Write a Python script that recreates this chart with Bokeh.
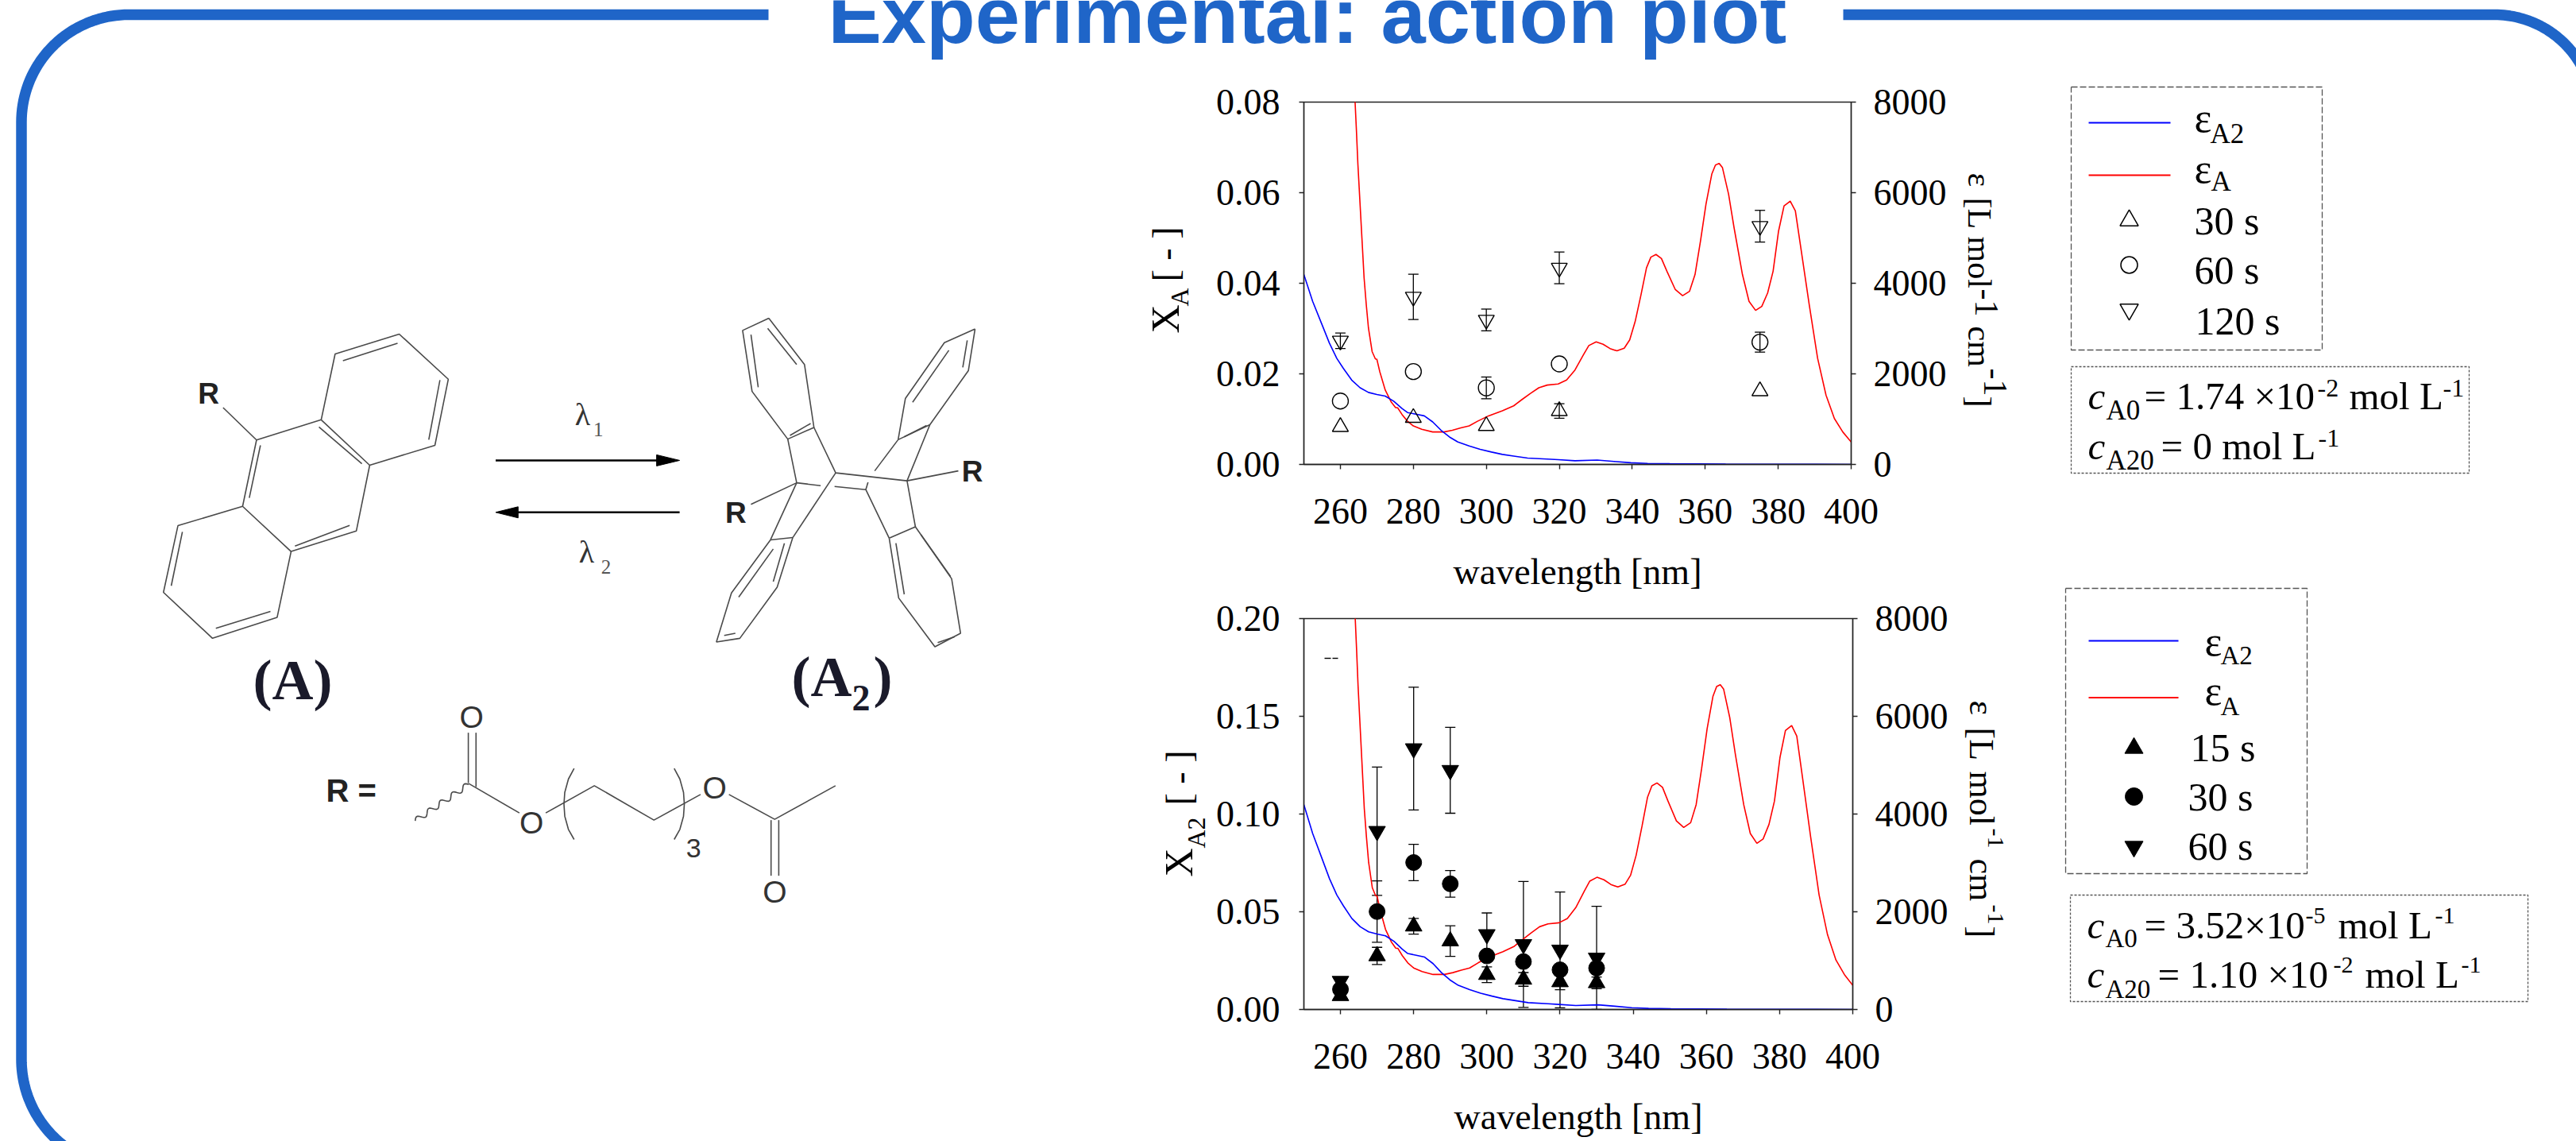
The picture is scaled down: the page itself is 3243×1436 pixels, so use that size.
import math
import numpy as np
from bokeh.core.properties import value
from bokeh.embed import file_html
from bokeh.layouts import column
from bokeh.models import (ColumnDataSource, FixedTicker, LinearAxis, PrintfTickFormatter,
                          Range1d, TeeHead, Whisker)
from bokeh.plotting import figure
from bokeh.resources import INLINE

# ---------- data ----------
red_nm = [263.8,264.4,264.8,265.3,265.9,266.5,267.1,267.7,268.7,269.6,270.0,270.8,272.3,273.9,275.1,275.7,276.9,278.4,280.0,282.3,285.3,288.4,290.7,293.0,295.3,297.6,300.6,304.4,307.5,309.8,312.1,314.4,316.7,319.7,322.0,324.3,326.6,328.1,330.1,332.0,333.9,335.8,337.8,339.3,340.8,342.4,343.9,345.1,346.5,348.0,349.5,351.8,353.8,355.7,357.2,358.7,360.2,361.8,362.8,363.8,364.7,366.4,367.9,370.2,372.0,373.8,375.5,377.1,378.6,380.1,381.6,383.3,384.7,386.2,388.5,390.8,393.1,395.4,397.7,400.0]
red_eps = [8400,7372,6632,5893,5006,4118,3527,3009,2492,2329,2322,2048,1641,1383,1257,1250,1102,954,850,776,717,717,754,806,850,954,1072,1183,1294,1434,1568,1693,1752,1775,1863,2085,2418,2625,2706,2654,2558,2507,2566,2751,3157,3749,4340,4577,4636,4547,4266,3860,3727,3823,4192,4932,5745,6411,6610,6647,6558,5967,5228,4192,3601,3401,3490,3786,4266,5154,5708,5812,5597,4784,3527,2344,1531,1013,717,495]
blue_nm = [250,252.4,254.8,257,259,260.8,263.1,265.4,267.7,270,272.3,274.6,276.9,278.4,280.7,283,285.3,287.6,289.9,292.2,295.3,298.3,301.4,304.4,307.5,311.3,316.7,319.7,324.3,330.4,335,339.6,344.2,350.3,365.6,400]
blue_eps = [4192,3601,3120,2677,2344,2122,1863,1693,1590,1545,1508,1397,1235,1146,1109,1072,939,754,606,495,407,333,274,222,185,140,118,104,81,96,67,37,22,15,7,0]

# top panel: X_A (an error of 0 means no bar is visible in the picture)
a_nm = [260, 280, 300, 320, 375]
a30 = [0.0083, 0.0103, 0.0085, 0.0118, 0.0162]
a30_err = [0, 0, 0, 0.0016, 0]
a60 = [0.0140, 0.0205, 0.0169, 0.0222, 0.0270]
a60_err = [0, 0, 0.0024, 0, 0.0022]
a120 = [0.0273, 0.0370, 0.0319, 0.0434, 0.0526]
a120_err = [0.0017, 0.0050, 0.0024, 0.0035, 0.0035]

# bottom panel: X_A2
b_nm = [260, 270, 280, 290, 300, 310, 320, 330]
b15 = [0.0070, 0.0274, 0.0426, 0.0350, 0.0178, 0.0154, 0.0141, 0.0136]
b15_err = [0, 0.0044, 0.0040, 0.0078, 0.0040, 0.0035, 0.0040, 0.0030]
b30 = [0.0103, 0.0501, 0.0752, 0.0643, 0.0274, 0.0245, 0.0203, 0.0212]
b30_err = [0, 0.0157, 0.0093, 0.0068, 0, 0, 0, 0]
b60 = [0.0145, 0.0912, 0.1335, 0.1224, 0.0384, 0.0333, 0.0305, 0.0264]
b60_err = [0, 0.0328, 0.0314, 0.0220, 0.0110, 0.0322, 0.0296, 0.0264]

x_ticks = [260, 280, 300, 320, 340, 360, 380, 400]
a_ticks = [0.0, 0.02, 0.04, 0.06, 0.08]
b_ticks = [0.0, 0.05, 0.10, 0.15, 0.20]
eps_ticks = [0, 2000, 4000, 6000, 8000]

TITLE = "Experimental: action plot"
XLABEL = "wavelength [nm]"
BLUE = "#1f65c8"
SERIF = "Liberation Serif"
SANS = "Liberation Sans"
W, H = 3243, 1436

# ---------- background canvas in page pixels ----------
c = figure(width=W, height=H, x_range=Range1d(0, W), y_range=Range1d(H, 0),
           x_axis_type=None, y_axis_type=None, toolbar_location=None,
           output_backend="svg", min_border=0, outline_line_color=None,
           background_fill_color=None, border_fill_color=None, frame_align=False)


def T(x, y, s, size=47, font=SERIF, style="normal", color="black", align="left", angle=0.0):
    # x, y name the text's baseline; the glyph draws it about 0.34 em below its anchor
    off = 0.34 * size
    if angle == 0:
        y -= off
    elif angle > 0:
        x -= off
    else:
        x += off
    c.text(x=[x], y=[y], text=[s], text_font=value(font), text_font_size=f"{size}px",
           text_font_style=style, text_color=color, text_align=align,
           text_baseline="alphabetic", angle=angle)


def L(xs, ys, color="#4a4a4a", width=1.6, dash="solid"):
    c.line([float(v) for v in xs], [float(v) for v in ys], line_color=color, line_width=width, line_dash=dash)


def arc(cx, cy, r, a0, a1, n=40):
    t = np.radians(np.linspace(a0, a1, n))
    return cx + r * np.cos(t), cy + r * np.sin(t)


# outer frame
ax, ay = arc(161.5, 153, 135, 180, 270)
bx, by = arc(163.5, 1333, 137, 180, 110)
fx = list(bx[::-1]) + list(ax) + [967]
fy = list(by[::-1]) + list(ay) + [18]
L(fx, fy, BLUE, 13.5)
rx, ry = arc(3140, 143, 125, 270, 340)
L([2320] + list(rx), [18] + list(ry), BLUE, 13.5)
# note: a bold size beginning "100" trips the SVG context's font parser, 101 is fine
T(1042, 53, TITLE, 101, SANS, "bold", BLUE)


# structures
def z5(p):
    return 180 + p[0] / 1.425, 360 + p[1] / 2.8


def z6(p):
    return 360 + p[0] / 1.96, 840 + p[1] / 3


def path(pts, f=z5, **kw):
    q = [f(p) for p in pts]
    L([a for a, _ in q], [b for _, b in q], **kw)


for pts in [
    [(319,470),(344,238),(459,168),(547,327),(523,560),(406,630),(319,470)],
    [(358,262),(456,200)], [(532,330),(512,540)], [(315,495),(392,625)],
    [(319,470),(203,541),(178,775),(265,934),(382,862),(406,630)],
    [(210,560),(190,745)], [(272,915),(370,842)],
    [(178,775),(62,843),(36,1078),(124,1240),(240,1166),(265,934)],
    [(70,865),(50,1055)], [(130,1205),(228,1145)], [(203,541),(143,427)],
    # dimer
    [(1122,112),(1075,155),(1092,370),(1156,538),(1203,497),(1186,275),(1122,112)],
    [(1120,148),(1172,275)], [(1090,170),(1103,355)], [(1160,525),(1197,483)],
    [(1492,150),(1437,198),(1367,395),(1354,540),(1411,487),(1480,297),(1492,150)],
    [(1445,225),(1380,408)], [(1478,190),(1470,285)], [(1365,530),(1405,490)],
    [(1203,497),(1242,657),(1370,685)], [(1156,538),(1172,692),(1215,702)],
    [(1240,705),(1296,716),(1338,887)], [(1354,540),(1312,650)], [(1300,690),(1296,716)],
    [(1411,487),(1370,685),(1385,847)], [(1242,657),(1165,885)],
    [(1172,692),(1125,893)], [(1172,692),(1090,768)], [(1370,685),(1462,650)],
    [(1125,893),(1165,885)], [(1125,893),(1055,1080),(1028,1253),(1070,1240),(1137,1060),(1165,885)],
    [(1130,925),(1068,1095)], [(1150,905),(1130,1040)], [(1042,1230),(1062,1222)],
    [(1338,887),(1385,847),(1450,1030),(1466,1222),(1420,1270),(1355,1098),(1338,887)],
    [(1395,875),(1448,1022)], [(1350,905),(1365,1085)], [(1425,1255),(1455,1235)],
]:
    path(pts)

for zx, zy in [(117, 413), (1063, 832), (1487, 687)]:
    x, y = z5((zx, zy))
    T(x, y, "R", 37, SANS, "bold", "#222222", "center")

# arrows
x0, y0 = z5((632, 613)); x1, _ = z5((925, 613))
L([x0, x1], [y0, y0], "black", 2.4)
hx, _ = z5((962, 613))
c.patch([x1 - 3, hx, x1 - 3], [y0 - 7, y0, y0 + 7], color="black")
x0, y0 = z5((962, 796)); x1, _ = z5((668, 796))
L([x0, x1], [y0, y0], "black", 2.4)
hx, _ = z5((632, 796))
c.patch([x1 + 3, hx, x1 + 3], [y0 - 7, y0, y0 + 7], color="black")
x, y = z5((788, 490)); T(x, y, "λ", 40, SERIF, color="#333333", align="center")
x, y = z5((816, 527)); T(x, y, "1", 25, SERIF, color="#555555", align="center")
x, y = z5((795, 972)); T(x, y, "λ", 40, SERIF, color="#333333", align="center")
x, y = z5((830, 1012)); T(x, y, "2", 25, SERIF, color="#555555", align="center")

T(318, 880, "(A)", 72, SERIF, "bold", "#1a1a2a")
T(996, 876, "(A", 72, SERIF, "bold", "#1a1a2a")
T(1072, 894, "2", 46, SERIF, "bold", "#1a1a2a")
T(1099, 876, ")", 72, SERIF, "bold", "#1a1a2a")

# R group
T(410, 1008, "R =", 40, SANS, "bold", "#222222")
for zx, zy in [(457, 227), (605, 624), (1057, 492), (1205, 887)]:
    x, y = z6((zx, zy))
    T(x, y, "O", 39, SANS, "normal", "#333333", "center")
x, y = z6((1005, 716)); T(x, y, "3", 34, SANS, "normal", "#333333", "center")
for pts in [[(449,245),(449,435)], [(468,245),(468,450)], [(450,437),(575,548)],
            [(640,548),(760,445),(907,575),(1022,478)], [(1092,478),(1205,572),(1355,445)],
            [(1196,575),(1196,785)], [(1215,575),(1215,785)],
            [(710,380),(696,420),(687,470),(685,515),(687,560),(696,610),(710,648)],
            [(957,380),(971,420),(980,470),(982,515),(980,560),(971,610),(957,648)]]:
    path(pts, z6)
# wavy bond
wn = 60
ws = np.linspace(0, 1, wn)
wx0, wy0 = z6((318, 578)); wx1, wy1 = z6((450, 440))
nx, ny = (wy1 - wy0), -(wx1 - wx0)
nl = math.hypot(nx, ny)
L(wx0 + (wx1 - wx0) * ws + 3.5 * nx / nl * np.sin(ws * 2 * np.pi * 4.5),
  wy0 + (wy1 - wy0) * ws + 3.5 * ny / nl * np.sin(ws * 2 * np.pi * 4.5))

# axis titles with subscripts and superscripts
up = math.pi / 2
T(1483, 419, "X", 50, angle=up); T(1495, 385, "A", 32, angle=up); T(1483, 354, "[ - ]", 46, angle=up)
T(1500, 1103, "X", 50, angle=up); T(1516, 1067, "A2", 32, angle=up); T(1500, 1013, "[ - ]", 46, angle=up)
dn = -math.pi / 2
for (xb, y, s, sz) in [(2477, 217, "ε", 42), (2477, 248, "[L", 42), (2477, 297, "mol", 42),
                       (2486, 363, "-1", 42), (2477, 410, "cm", 42), (2497, 463, "-1", 42),
                       (2477, 498, "]", 42),
                       (2479, 881, "ε", 44), (2479, 915, "[L", 44), (2479, 970, "mol", 44),
                       (2502, 1042, "-1", 30), (2479, 1080, "cm", 44), (2502, 1138, "-1", 30),
                       (2479, 1165, "]", 44)]:
    T(xb, y, s, sz, angle=dn)

# legend 1
LD = "#555555"
L([2607, 2923, 2923, 2607, 2607], [109, 109, 440, 440, 109], LD, 1.3, "8 3")
L([2629, 2732], [154, 154], "#0000ff", 1.8)
L([2629, 2732], [220, 220], "#ff0000", 1.8)
T(2762, 166, "ε", 52); T(2782, 180, "A2", 35)
T(2762, 230, "ε", 52); T(2783, 240, "A", 35)
T(2762, 294, "30 s", 50); T(2762, 356, "60 s", 50); T(2763, 420, "120 s", 50)
c.scatter([2680], [277], marker="triangle", size=23, fill_color=None, line_color="black", line_width=1.5)
c.scatter([2680], [333], marker="circle", size=21, fill_color=None, line_color="black", line_width=1.5)
c.scatter([2680], [389], marker="inverted_triangle", size=23, fill_color=None, line_color="black", line_width=1.5)
L([2607, 3108, 3108, 2607, 2607], [461, 461, 595, 595, 461], LD, 1.3, "3 2")
T(2628, 515, "c", 49, style="italic"); T(2651, 528, "A0", 35); T(2699, 515, "= 1.74 ×10", 49)
T(2917, 499, "-2", 32); T(2957, 515, "mol L", 49); T(3075, 499, "-1", 32)
T(2628, 578, "c", 49, style="italic"); T(2651, 591, "A20", 35); T(2720, 578, "= 0 mol L", 49)
T(2918, 562, "-1", 32)

# legend 2
L([2600, 2904, 2904, 2600, 2600], [740, 740, 1099, 1099, 740], LD, 1.3, "8 3")
L([2629, 2742], [806, 806], "#0000ff", 1.8)
L([2629, 2742], [877.5, 877.5], "#ff0000", 1.8)
T(2775, 825, "ε", 52); T(2795, 836, "A2", 33)
T(2775, 887, "ε", 52); T(2795, 900, "A", 33)
T(2757, 957, "15 s", 50); T(2754, 1019, "30 s", 50); T(2754, 1081, "60 s", 50)
c.scatter([2686], [941], marker="triangle", size=23, fill_color="black", line_color="black")
c.scatter([2686], [1002], marker="circle", size=22, fill_color="black", line_color="black")
c.scatter([2686], [1065], marker="inverted_triangle", size=23, fill_color="black", line_color="black")
L([2606, 3182, 3182, 2606, 2606], [1126, 1126, 1260, 1260, 1126], LD, 1.3, "3 2")
T(2627, 1181, "c", 49, style="italic"); T(2650, 1192, "A0", 33); T(2699, 1181, "= 3.52×10", 49)
T(2902, 1162, "-5", 30); T(2943, 1181, "mol L", 49); T(3065, 1162, "-1", 30)
T(2627, 1243, "c", 49, style="italic"); T(2650, 1256, "A20", 33); T(2716, 1243, "= 1.10 ×10", 49)
T(2937, 1224, "-2", 30); T(2977, 1243, "mol L", 49); T(3098, 1224, "-1", 30)

# small stray dash in the lower panel
L([1667, 1675], [828, 828], "black", 1.4)
L([1677, 1684], [828, 828], "black", 1.4)

# ---------- chart panels ----------
BL, BR, BT, BB = 160, 150, 20, 170


def panel(left, right, top, bottom, ymax, yticks):
    p = figure(width=right - left + BL + BR, height=bottom - top + BT + BB,
               x_range=Range1d(250, 400), y_range=Range1d(0, ymax),
               toolbar_location=None, output_backend="svg",
               min_border_left=BL, min_border_right=BR, min_border_top=BT, min_border_bottom=BB,
               background_fill_color=None, border_fill_color=None, frame_align=False,
               outline_line_color="#222222", outline_line_width=1.4)
    p.grid.visible = False
    p.extra_y_ranges["eps"] = Range1d(0, 8000)
    right_axis = LinearAxis(y_range_name="eps")
    p.add_layout(right_axis, "right")
    p.xaxis.ticker = FixedTicker(ticks=x_ticks)
    p.xaxis.axis_label = XLABEL
    p.yaxis[0].ticker = FixedTicker(ticks=yticks)
    p.yaxis[0].formatter = PrintfTickFormatter(format="%.2f")
    right_axis.ticker = FixedTicker(ticks=eps_ticks)
    right_axis.formatter = PrintfTickFormatter(format="%d")
    for ax_ in [p.xaxis[0], p.yaxis[0], right_axis]:
        ax_.major_label_text_font = SERIF
        ax_.major_label_text_font_size = "46px"
        ax_.major_label_text_color = "black"
        ax_.axis_line_color = "#222222"
        ax_.axis_line_width = 1.4
        ax_.major_tick_line_color = "#222222"
        ax_.major_tick_line_width = 1.4
        ax_.major_tick_in = 0
        ax_.major_tick_out = 6
        ax_.minor_tick_line_color = None
    p.xaxis.major_label_standoff = 37
    p.yaxis[0].major_label_standoff = 24
    right_axis.major_label_standoff = 22
    p.xaxis.axis_label_text_font = SERIF
    p.xaxis.axis_label_text_font_size = "46px"
    p.xaxis.axis_label_text_font_style = "normal"
    p.xaxis.axis_label_text_color = "black"
    p.xaxis.axis_label_standoff = 32
    p.line(red_nm, red_eps, y_range_name="eps", line_color="#ff0000", line_width=1.6)
    p.line(blue_nm, blue_eps, y_range_name="eps", line_color="#0000ff", line_width=1.6)
    return p


def errs(p, xs, ys, es):
    keep = [i for i, e in enumerate(es) if e > 0]
    src = ColumnDataSource(dict(x=[xs[i] for i in keep], lo=[ys[i] - es[i] for i in keep],
                                hi=[ys[i] + es[i] for i in keep]))
    p.add_layout(Whisker(base="x", lower="lo", upper="hi", source=src, line_color="black", line_width=1.3,
                         upper_head=TeeHead(size=13, line_color="black", line_width=1.3),
                         lower_head=TeeHead(size=13, line_color="black", line_width=1.3)))


p1 = panel(1641, 2330, 128, 584, 0.08, a_ticks)
for ys, es, mk, sz in [(a30, a30_err, "triangle", 20), (a60, a60_err, "circle", 20),
                       (a120, a120_err, "inverted_triangle", 20)]:
    errs(p1, a_nm, ys, es)
    p1.scatter(a_nm, ys, marker=mk, size=sz, fill_color=None, line_color="black", line_width=1.4)

p2 = panel(1641, 2332, 778, 1270, 0.20, b_ticks)
for ys, es, mk, sz in [(b15, b15_err, "triangle", 21), (b30, b30_err, "circle", 20),
                       (b60, b60_err, "inverted_triangle", 21)]:
    errs(p2, b_nm, ys, es)
    p2.scatter(b_nm, ys, marker=mk, size=sz, fill_color="black", line_color="black")

# stack the panels on the canvas: negative margins pull them back up over it
h1 = 584 - 128 + BT + BB
p1.margin = (128 - BT - H, 0, 0, 1641 - BL)
p2.margin = (778 - BT - (128 - BT + h1), 0, 0, 1641 - BL)
root = column(c, p1, p2)

open("out.html", "w").write(file_html(root, INLINE))
